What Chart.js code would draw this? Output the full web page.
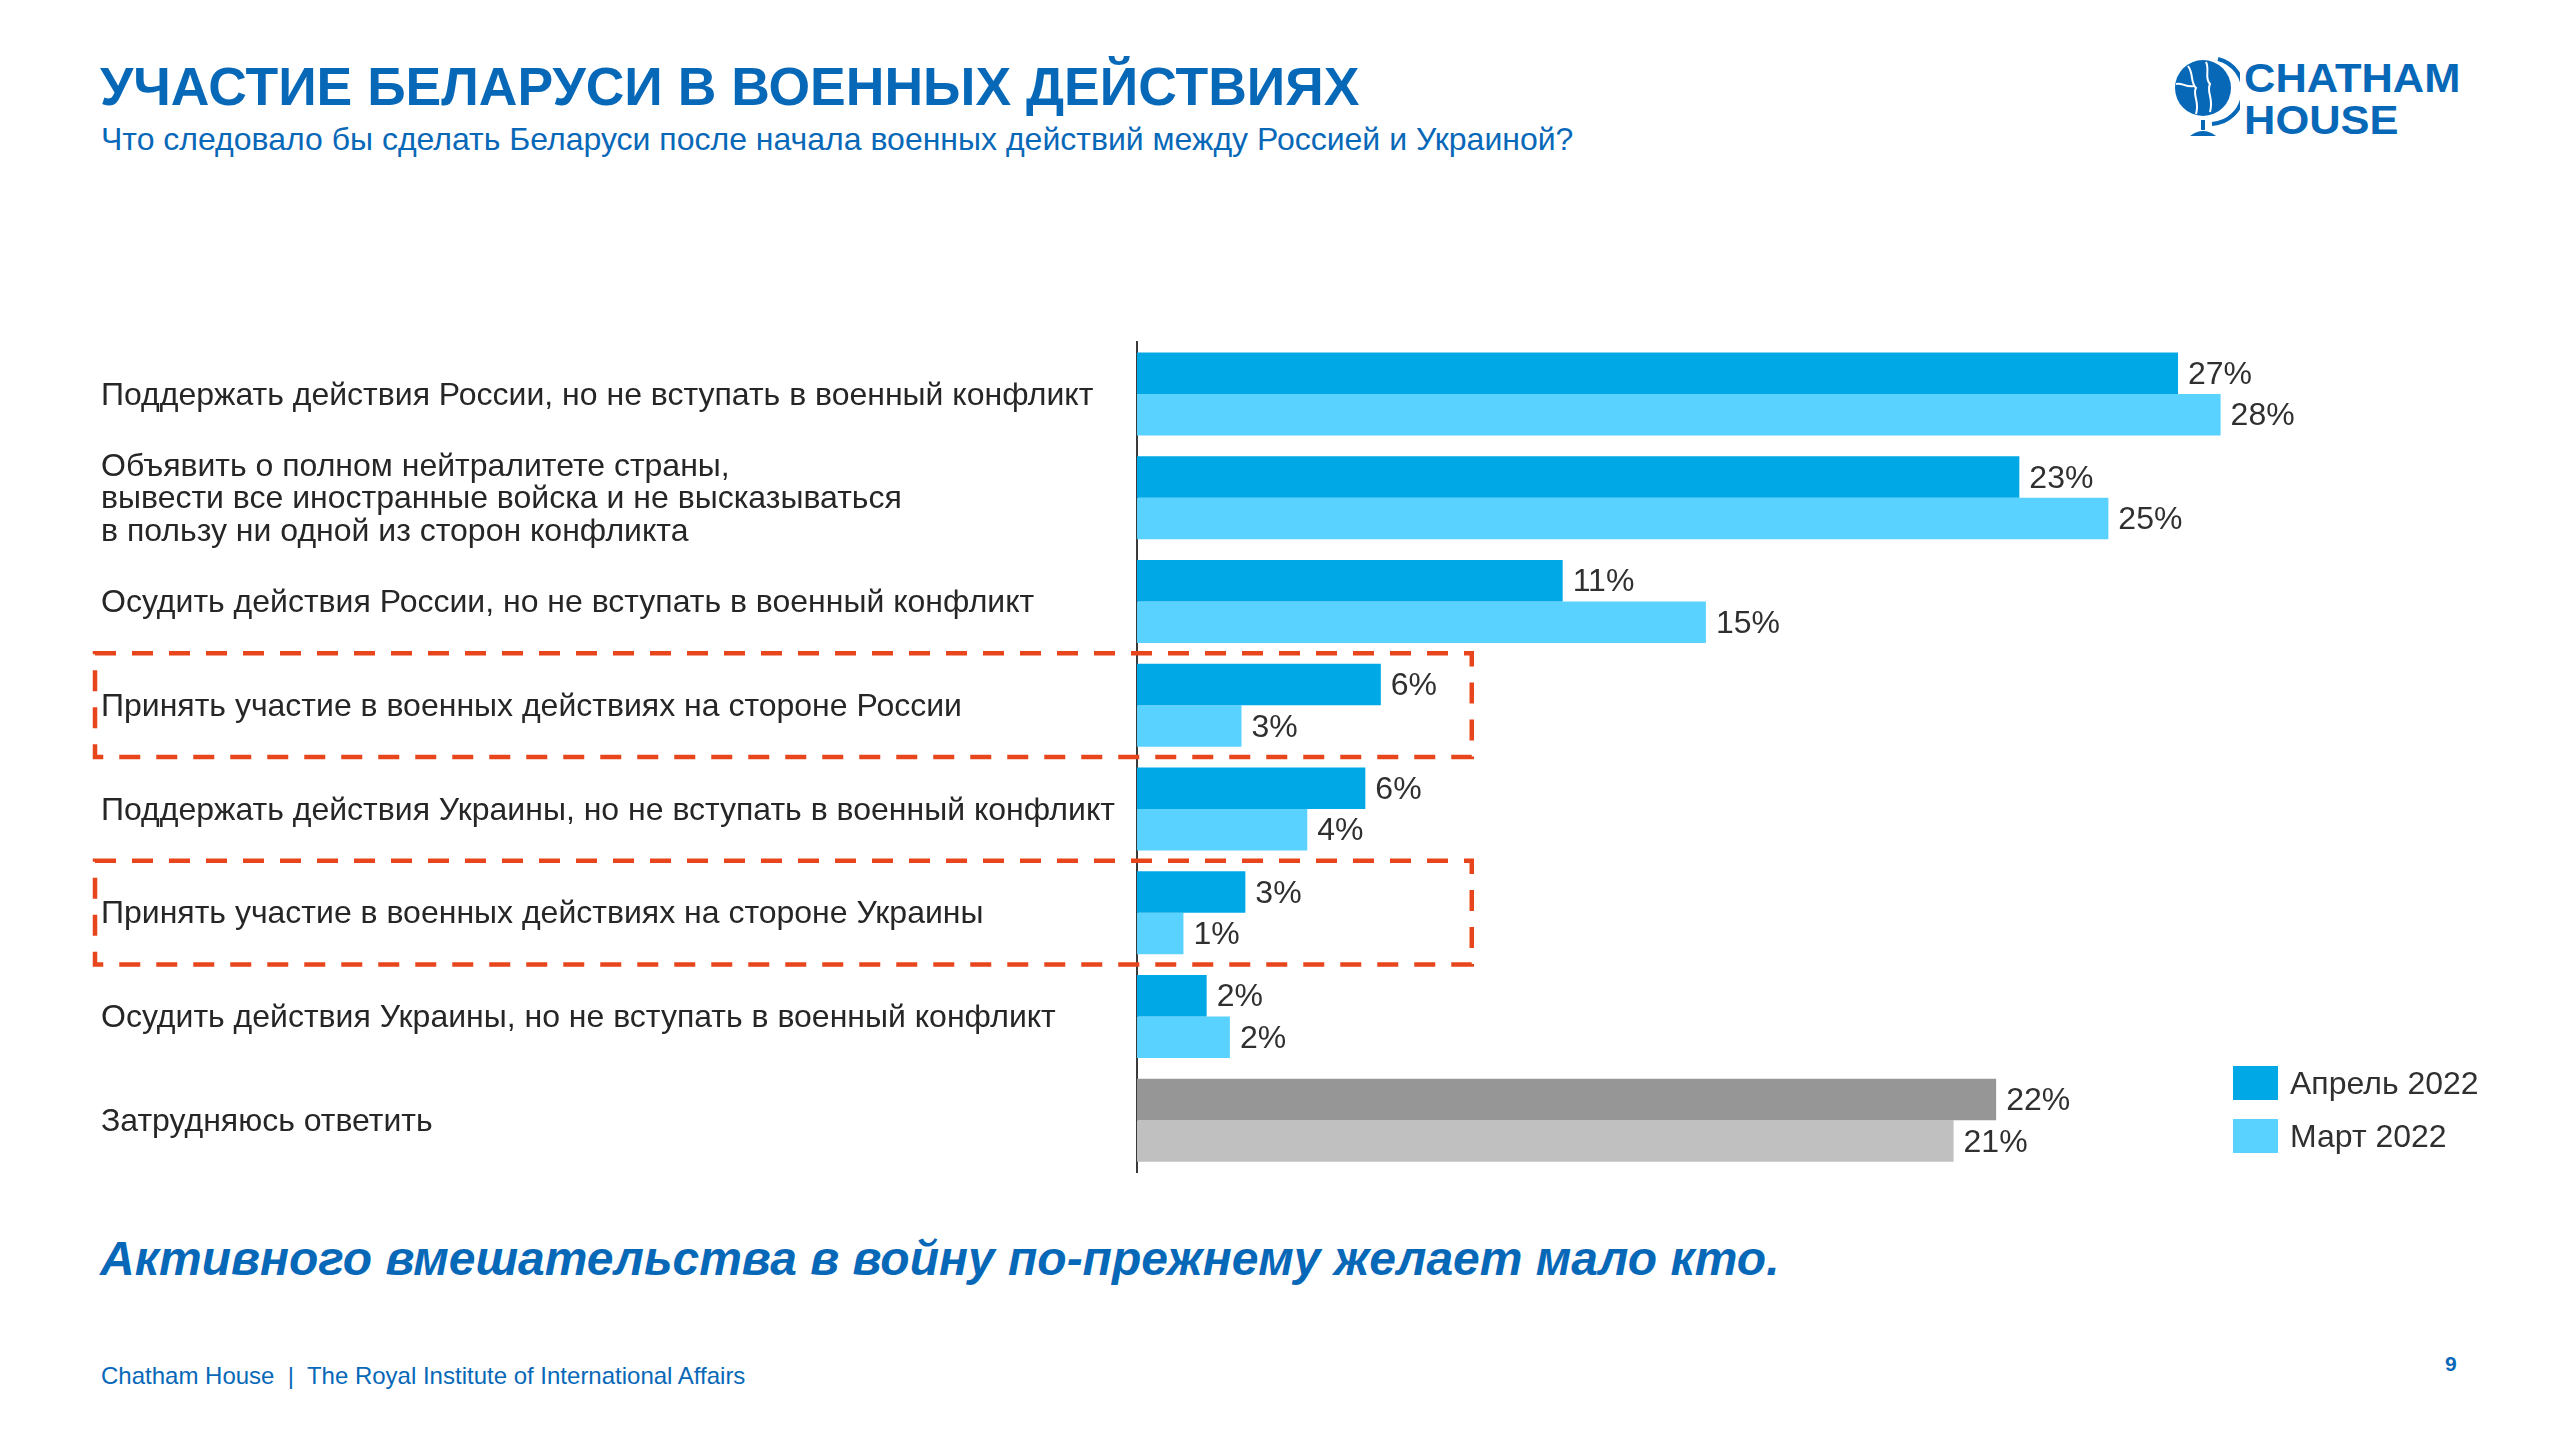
<!DOCTYPE html>
<html lang="ru">
<head>
  <meta charset="UTF-8" />
  <title>Участие Беларуси в военных действиях</title>
  <script src="https://cdn.jsdelivr.net/npm/chart.js"></script>
  <style>
    body { margin: 0; background: #fff; }
    .page {
      position: relative; width: 2560px; height: 1440px; overflow: hidden;
      font-family: "Liberation Sans", Arial, sans-serif; color: #0868b8;
    }
    .title { position: absolute; left: 100px; top: 60px; font-size: 53.5px; font-weight: bold; line-height: 1; }
    .subtitle { position: absolute; left: 101px; top: 123px; font-size: 32px; line-height: 1; }
    .logo { position: absolute; left: 2172px; top: 56px; }
    .logo-text {
      position: absolute; left: 2244px; top: 57px; font-size: 41px; font-weight: bold;
      line-height: 42px; transform: scaleX(1.06); transform-origin: left top;
    }
    .chart-box { position: absolute; left: 0; top: 322px; width: 2330px; height: 868px; }
    .legend { position: absolute; left: 2233px; top: 1066px; font-size: 32px; color: #303030; }
    .legend div { display: flex; align-items: center; height: 34px; margin-bottom: 19px; }
    .legend span { display: inline-block; width: 45px; height: 34px; margin-right: 12px; }
    .conclusion {
      position: absolute; left: 100px; top: 1235px; font-size: 48px; font-weight: bold;
      font-style: italic; line-height: 1;
    }
    .footer { position: absolute; left: 101px; top: 1364px; font-size: 24px; line-height: 1; }
    .page-num { position: absolute; left: 2445px; top: 1352px; font-size: 21px; font-weight: bold; }
  </style>
</head>
<body>
<div class="page">
  <div class="title">УЧАСТИЕ БЕЛАРУСИ В ВОЕННЫХ ДЕЙСТВИЯХ</div>
  <div class="subtitle">Что следовало бы сделать Беларуси после начала военных действий между Россией и Украиной?</div>

  <svg class="logo" width="68" height="82" viewBox="0 0 68 82">
    <circle cx="31" cy="32" r="28" fill="#0868b8"/>
    <path d="M46 3 A33 33 0 0 1 40 68" fill="none" stroke="#0868b8" stroke-width="4"/>
    <path d="M16 10 C22 18 18 26 24 32 C20 38 28 46 24 58" fill="none" stroke="#fff" stroke-width="2"/>
    <path d="M34 6 C38 14 32 22 38 28 C34 36 42 42 38 56" fill="none" stroke="#fff" stroke-width="2"/>
    <path d="M4 28 C10 26 14 32 22 30" fill="none" stroke="#fff" stroke-width="2"/>
    <rect x="29" y="64" width="4" height="10" fill="#0868b8"/>
    <path d="M18 80 Q31 70 44 80 Z" fill="#0868b8"/>
  </svg>
  <div class="logo-text">CHATHAM<br>HOUSE</div>

  <div class="chart-box"><canvas id="warChart"></canvas></div>

  <div class="legend">
    <div><span style="background:#00a8e6"></span>Апрель 2022</div>
    <div><span style="background:#5ad2ff"></span>Март 2022</div>
  </div>

  <div class="conclusion">Активного вмешательства в войну по-прежнему желает мало кто.</div>
  <div class="footer">Chatham House &nbsp;|&nbsp; The Royal Institute of International Affairs</div>
  <div class="page-num">9</div>
</div>

<script>
  // answer options, top to bottom
  const categories = [
    "Поддержать действия России, но не вступать в военный конфликт",
    ["Объявить о полном нейтралитете страны,",
     "вывести все иностранные войска и не высказываться",
     "в пользу ни одной из сторон конфликта"],
    "Осудить действия России, но не вступать в военный конфликт",
    "Принять участие в военных действиях на стороне России",
    "Поддержать действия Украины, но не вступать в военный конфликт",
    "Принять участие в военных действиях на стороне Украины",
    "Осудить действия Украины, но не вступать в военный конфликт",
    "Затрудняюсь ответить"
  ];

  // shares in %
  const april2022 = [26.9, 22.8, 11.0, 6.3, 5.9, 2.8, 1.8, 22.2];
  const march2022 = [28.0, 25.1, 14.7, 2.7, 4.4, 1.2, 2.4, 21.1];

  // options framed with a dashed box
  const highlighted = [3, 5];

  const font = '"Liberation Sans", Arial, sans-serif';
  const lastIdx = categories.length - 1;

  const valueLabels = {
    id: "valueLabels",
    afterDatasetsDraw(chart) {
      const ctx = chart.ctx;
      ctx.save();
      ctx.font = "32px " + font;
      ctx.fillStyle = "#303030";
      ctx.textBaseline = "middle";
      chart.data.datasets.forEach((ds, i) => {
        chart.getDatasetMeta(i).data.forEach((bar, j) => {
          ctx.fillText(Math.round(ds.data[j]) + "%", bar.x + 10, bar.y + 2);
        });
      });
      ctx.restore();
    }
  };

  const dashedBoxes = {
    id: "dashedBoxes",
    afterDraw(chart) {
      const { ctx, chartArea, scales } = chart;
      const step = (chartArea.bottom - chartArea.top) / categories.length;
      const right = scales.x.getPixelForValue(8.65);
      ctx.save();
      ctx.strokeStyle = "#e8451c";
      ctx.lineWidth = 4.5;
      ctx.setLineDash([21, 16]);
      highlighted.forEach(i => {
        const mid = scales.y.getPixelForValue(i);
        ctx.strokeRect(95, mid - step / 2, right - 95, step);
      });
      ctx.restore();
    }
  };

  new Chart(document.getElementById("warChart"), {
    type: "bar",
    data: {
      labels: categories,
      datasets: [
        {
          label: "Апрель 2022",
          data: april2022,
          backgroundColor: c => c.dataIndex === lastIdx ? "#969696" : "#00a8e6"
        },
        {
          label: "Март 2022",
          data: march2022,
          backgroundColor: c => c.dataIndex === lastIdx ? "#c0c0c0" : "#5ad2ff"
        }
      ]
    },
    options: {
      indexAxis: "y",
      responsive: true,
      maintainAspectRatio: false,
      animation: false,
      layout: { padding: { left: 101, right: 32, top: 20, bottom: 18 } },
      datasets: { bar: { categoryPercentage: 0.8, barPercentage: 1.0 } },
      plugins: { legend: { display: false }, tooltip: { enabled: false } },
      scales: {
        x: { display: false, min: 0, max: 30 },
        y: {
          grid: { display: false },
          border: { display: true, color: "#3a3a3a", width: 2 },
          afterFit(scale) { scale.width = 1036; },
          ticks: {
            crossAlign: "far",
            padding: 0,
            labelOffset: 2,
            color: "#262626",
            font: { family: font, size: 32, lineHeight: 1.02 }
          }
        }
      }
    },
    plugins: [valueLabels, dashedBoxes]
  });
</script>
</body>
</html>
